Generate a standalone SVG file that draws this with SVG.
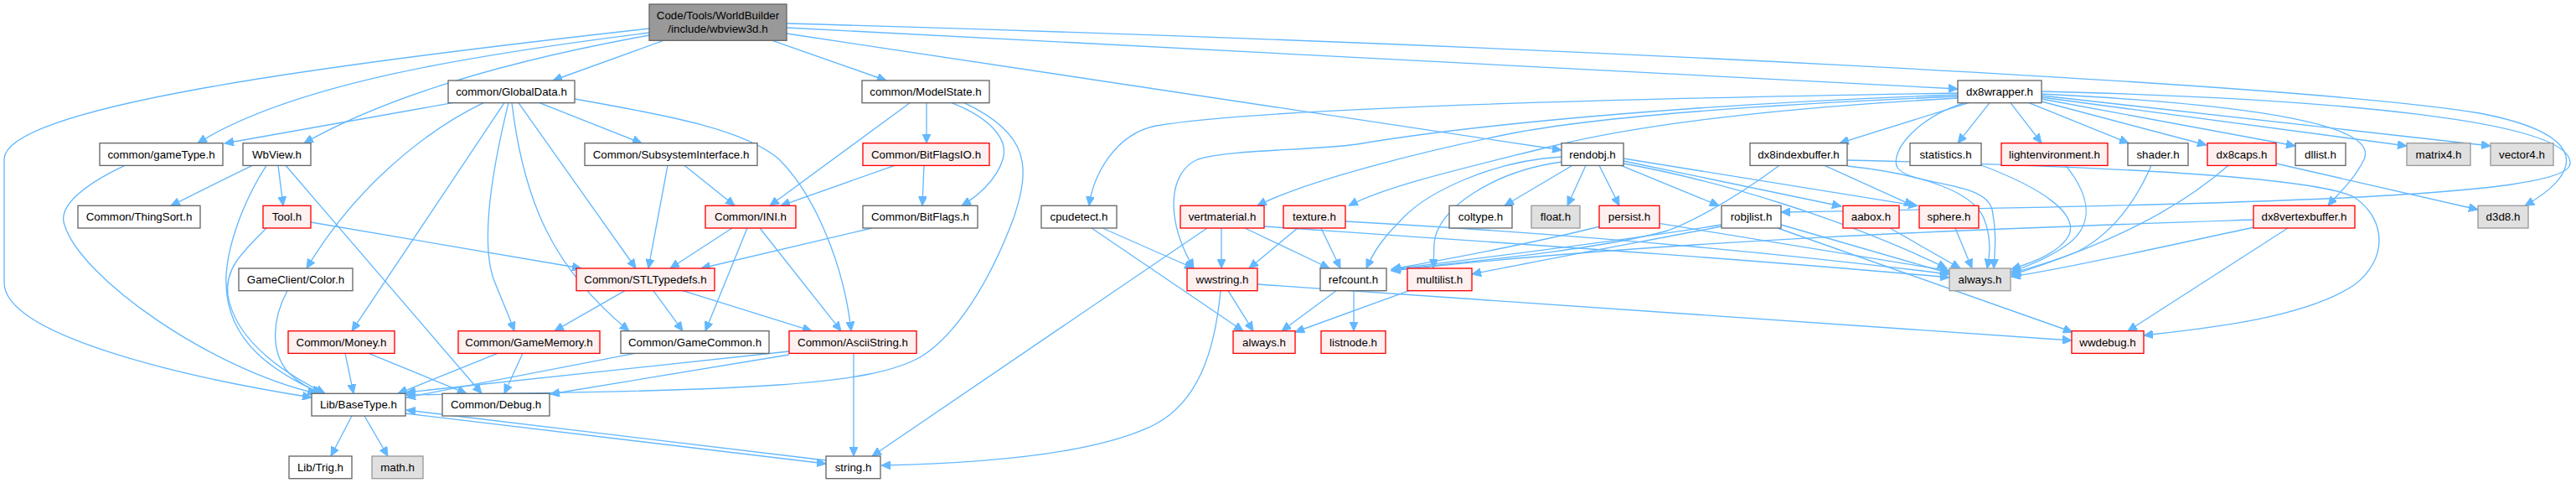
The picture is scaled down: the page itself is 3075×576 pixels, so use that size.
<svg xmlns="http://www.w3.org/2000/svg" width="3075" height="576" viewBox="0 0 3075 576">
<defs>
<style>
.node rect{stroke-width:1.33}
.w rect{fill:#ffffff;stroke:#666666}
.r rect{fill:#fff0f0;stroke:#ff0000}
.g rect{fill:#e0e0e0;stroke:#999999}
.root rect{fill:#999999;stroke:#666666}
.node text{font-family:"Liberation Sans",Arial,Helvetica,sans-serif;font-size:13.33px;text-anchor:middle;fill:#000000}
#edges path{fill:none;stroke:#63b8ff;stroke-width:1.33;marker-end:url(#arr)}
</style>
<marker id="arr" markerUnits="userSpaceOnUse" markerWidth="12" markerHeight="10" refX="11" refY="5" orient="auto">
<path d="M0,0 L11,5 L0,10 z" fill="#63b8ff" stroke="#63b8ff" stroke-width="1"/>
</marker>
</defs>
<rect x="0" y="0" width="3075" height="576" fill="#ffffff"/>
<g id="edges">
<path d="M792,48.3 L660,96"/>
<path d="M775,39 C560,66 350,100 236,170.7"/>
<path d="M775,42 C620,70 470,110 363,170.7"/>
<path d="M775,34 C380,78 5,128 5,190 L5,337 C5,400 220,450 372,474"/>
<path d="M922,48.3 L1058,96"/>
<path d="M939,40 L1864,179"/>
<path d="M939,33 L2337,106"/>
<path d="M939,28 C1800,52 2750,100 2960,135 C3090,160 3085,205 3014,245.3"/>
<path d="M2437,109 C2800,118 3070,145 3068,195 C3066,235 2700,243 2126,253"/>
<path d="M540,122.7 L268,171"/>
<path d="M644,122.7 L766,170.7"/>
<path d="M686,118 C800,138 890,155 930,190 C975,235 1008,320 1016,394.7"/>
<path d="M577,122.7 C500,160 420,230 366,320"/>
<path d="M602,122.7 L420,394.7"/>
<path d="M607,122.7 C588,200 573,290 590,335 C600,360 607,375 614,394.7"/>
<path d="M611,122.7 C625,240 660,320 751,394.7"/>
<path d="M619,122.7 L759,320"/>
<path d="M797,197.3 L774,320"/>
<path d="M817,197.3 L877,245.3"/>
<path d="M1086,122.7 L919,245.3"/>
<path d="M1106,122.7 L1106,170.7"/>
<path d="M1136,122.7 C1180,140 1205,165 1197,190 C1190,215 1165,235 1148,245.3"/>
<path d="M1151,122.7 C1230,160 1230,200 1210,260 C1180,340 1140,400 1100,425 C1040,460 900,466 485,471"/>
<path d="M1068,197.3 L932,245.3"/>
<path d="M1103,197.3 L1101,245.3"/>
<path d="M301,197.3 L204,245.3"/>
<path d="M332,197.3 L338,245.3"/>
<path d="M318,197.3 C290,240 268,300 270,340 C272,410 330,445 383,469.3"/>
<path d="M341,197.3 L575,469.3"/>
<path d="M149,197.3 C90,225 70,250 77,268 C95,330 250,440 378,469.3"/>
<path d="M318,272 C290,300 268,320 272,352 C282,412 350,450 388,469.3"/>
<path d="M371,265 L694,320"/>
<path d="M343,346.7 C325,380 322,420 345,445 C360,460 375,465 385,469.3"/>
<path d="M874,272 L800,320"/>
<path d="M892,272 L842,394.7"/>
<path d="M907,272 L1004,394.7"/>
<path d="M1041,272 L837,320"/>
<path d="M746,346.7 L662,394.7"/>
<path d="M780,346.7 L815,394.7"/>
<path d="M815,346.7 L969,394.7"/>
<path d="M412,421.3 L422,469.3"/>
<path d="M440,421.3 L557,469.3"/>
<path d="M594,421.3 L475,469.3"/>
<path d="M624,421.3 L602,469.3"/>
<path d="M758,421.3 L485,474"/>
<path d="M942,419 L485,468"/>
<path d="M942,423 L657,470"/>
<path d="M1019,421.3 L1019,544"/>
<path d="M420,496 L395,544"/>
<path d="M435,496 L463,544"/>
<path d="M484,493 L986,553"/>
<path d="M986,549 L485,489"/>
<path d="M1316,272 L1425,320"/>
<path d="M1303,272 L1484,394.7"/>
<path d="M1441,272 L1041,544"/>
<path d="M1458,272 L1458,320"/>
<path d="M1486,272 L1587,320"/>
<path d="M1509,270 C1800,290 2100,310 2327,331"/>
<path d="M1549,272 L1491,320"/>
<path d="M1577,272 L1600,320"/>
<path d="M1606,264 C1900,280 2150,305 2327,327"/>
<path d="M1457,346.7 C1450,420 1430,480 1377,507 C1300,545 1150,553 1052,555"/>
<path d="M1466,346.7 L1496,394.7"/>
<path d="M1501,339 L2473,406"/>
<path d="M1595,346.7 L1530,394.7"/>
<path d="M1616,346.7 L1616,394.7"/>
<path d="M1682,346.7 L1546,396"/>
<path d="M1877,197.3 L1796,245.3"/>
<path d="M1893,197.3 L1871,245.3"/>
<path d="M1909,197.3 L1933,245.3"/>
<path d="M1935,197.3 L2052,245.3"/>
<path d="M1938,192 L2198,246"/>
<path d="M1938,189 L2289,245.5"/>
<path d="M1938,195 C2050,215 2200,260 2324,320"/>
<path d="M1864,187 C1780,192 1700,230 1670,265 C1650,285 1640,300 1631,320"/>
<path d="M1864,193 C1780,205 1715,250 1712,290 L1711,320"/>
<path d="M2124,197.3 C2060,245 2010,268 1991,275 C1900,300 1720,315 1661,322"/>
<path d="M2178,197.3 L2284,245.3"/>
<path d="M2205,198 C2300,208 2355,230 2368,260 C2378,285 2375,305 2372,320"/>
<path d="M2205,191 C2500,198 2760,210 2810,235 C2850,262 2850,310 2810,340 C2750,380 2630,392 2559,400"/>
<path d="M2055,268 C1950,285 1750,310 1661,321"/>
<path d="M2055,270 C1950,290 1830,312 1757,327"/>
<path d="M2126,268 L2327,326"/>
<path d="M2122,272 L2474,396"/>
<path d="M1982,266.7 L2327,323"/>
<path d="M1910,270 C1850,285 1750,305 1661,321"/>
<path d="M2256,272 L2340,320"/>
<path d="M2334,272 L2354,320"/>
<path d="M2337,111 C1900,118 1500,130 1380,150 C1330,160 1305,210 1300,245.3"/>
<path d="M2337,113 C2000,125 1750,150 1620,172 C1560,180 1470,178 1430,190 C1395,205 1390,260 1425,320"/>
<path d="M2337,115 C2100,125 1900,140 1800,160 C1700,180 1560,215 1501,245.3"/>
<path d="M2337,117 C2100,130 1950,150 1850,175 C1750,200 1660,220 1610,245.3"/>
<path d="M2350,122.7 L2196,170.7"/>
<path d="M2375,122.7 L2337,170.7"/>
<path d="M2400,122.7 L2437,170.7"/>
<path d="M2422,122.7 L2541,170.7"/>
<path d="M2437,121 L2634,173"/>
<path d="M2437,118 L2740,174"/>
<path d="M2437,116 L2873,174"/>
<path d="M2437,114 L2973,174"/>
<path d="M2437,112 C2700,125 2840,150 2822,190 C2810,215 2790,232 2779,245.3"/>
<path d="M2345,122.7 C2290,140 2255,180 2265,200 C2280,222 2370,215 2378,250 C2384,280 2381,300 2380,320"/>
<path d="M2365,197 C2440,225 2480,255 2470,280 C2460,300 2430,312 2401,321"/>
<path d="M2466,197.3 C2500,240 2495,270 2470,290 C2450,305 2425,316 2401,324"/>
<path d="M2568,197.3 C2550,240 2520,280 2480,300 C2450,312 2425,319 2401,326"/>
<path d="M2660,197.3 C2600,250 2520,290 2401,328"/>
<path d="M2717,195 L2958,250"/>
<path d="M2691,271 C2600,290 2480,318 2401,330"/>
<path d="M2731,272 L2540,394.7"/>
<path d="M2690,262 C2400,272 2000,285 1661,323"/>
</g>
<g id="nodes">
<g id="node-root" class="node root"><rect x="775" y="5" width="164" height="43.3"/><text x="857" y="23.2">Code/Tools/WorldBuilder</text><text x="857" y="39.2">/include/wbview3d.h</text></g>
<g id="node-globaldata" class="node w"><rect x="535" y="96" width="151" height="26.7"/><text x="610.5" y="114">common/GlobalData.h</text></g>
<g id="node-modelstate" class="node w"><rect x="1029" y="96" width="152" height="26.7"/><text x="1105" y="114">common/ModelState.h</text></g>
<g id="node-dx8wrapper" class="node w"><rect x="2337" y="96" width="100" height="26.7"/><text x="2387" y="114">dx8wrapper.h</text></g>
<g id="node-gametype" class="node w"><rect x="119" y="170.7" width="147" height="26.7"/><text x="192.5" y="188.7">common/gameType.h</text></g>
<g id="node-wbview" class="node w"><rect x="290" y="170.7" width="81" height="26.7"/><text x="330.5" y="188.7">WbView.h</text></g>
<g id="node-subsys" class="node w"><rect x="698" y="170.7" width="206" height="26.7"/><text x="801" y="188.7">Common/SubsystemInterface.h</text></g>
<g id="node-bitflagsio" class="node r"><rect x="1030" y="170.7" width="151" height="26.7"/><text x="1105.5" y="188.7">Common/BitFlagsIO.h</text></g>
<g id="node-rendobj" class="node w"><rect x="1864" y="170.7" width="74" height="26.7"/><text x="1901" y="188.7">rendobj.h</text></g>
<g id="node-dx8index" class="node w"><rect x="2089" y="170.7" width="116" height="26.7"/><text x="2147" y="188.7">dx8indexbuffer.h</text></g>
<g id="node-statistics" class="node w"><rect x="2280" y="170.7" width="85" height="26.7"/><text x="2322.5" y="188.7">statistics.h</text></g>
<g id="node-lightenv" class="node r"><rect x="2389" y="170.7" width="127" height="26.7"/><text x="2452.5" y="188.7">lightenvironment.h</text></g>
<g id="node-shader" class="node w"><rect x="2540" y="170.7" width="72" height="26.7"/><text x="2576" y="188.7">shader.h</text></g>
<g id="node-dx8caps" class="node r"><rect x="2635" y="170.7" width="82" height="26.7"/><text x="2676" y="188.7">dx8caps.h</text></g>
<g id="node-dllist" class="node w"><rect x="2740" y="170.7" width="60" height="26.7"/><text x="2770" y="188.7">dllist.h</text></g>
<g id="node-matrix4" class="node g"><rect x="2873" y="170.7" width="76" height="26.7"/><text x="2911" y="188.7">matrix4.h</text></g>
<g id="node-vector4" class="node g"><rect x="2973" y="170.7" width="75" height="26.7"/><text x="3010.5" y="188.7">vector4.h</text></g>
<g id="node-thingsort" class="node w"><rect x="93" y="245.3" width="146" height="26.7"/><text x="166" y="263.3">Common/ThingSort.h</text></g>
<g id="node-tool" class="node r"><rect x="314" y="245.3" width="57" height="26.7"/><text x="342.5" y="263.3">Tool.h</text></g>
<g id="node-ini" class="node r"><rect x="842" y="245.3" width="108" height="26.7"/><text x="896" y="263.3">Common/INI.h</text></g>
<g id="node-bitflags" class="node w"><rect x="1030" y="245.3" width="137" height="26.7"/><text x="1098.5" y="263.3">Common/BitFlags.h</text></g>
<g id="node-cpudetect" class="node w"><rect x="1243" y="245.3" width="90" height="26.7"/><text x="1288" y="263.3">cpudetect.h</text></g>
<g id="node-vertmaterial" class="node r"><rect x="1409" y="245.3" width="100" height="26.7"/><text x="1459" y="263.3">vertmaterial.h</text></g>
<g id="node-texture" class="node r"><rect x="1532" y="245.3" width="74" height="26.7"/><text x="1569" y="263.3">texture.h</text></g>
<g id="node-coltype" class="node w"><rect x="1730" y="245.3" width="75" height="26.7"/><text x="1767.5" y="263.3">coltype.h</text></g>
<g id="node-float" class="node g"><rect x="1828" y="245.3" width="58" height="26.7"/><text x="1857" y="263.3">float.h</text></g>
<g id="node-persist" class="node r"><rect x="1909" y="245.3" width="72" height="26.7"/><text x="1945" y="263.3">persist.h</text></g>
<g id="node-robjlist" class="node w"><rect x="2055" y="245.3" width="71" height="26.7"/><text x="2090.5" y="263.3">robjlist.h</text></g>
<g id="node-aabox" class="node r"><rect x="2200" y="245.3" width="67" height="26.7"/><text x="2233.5" y="263.3">aabox.h</text></g>
<g id="node-sphere" class="node r"><rect x="2291" y="245.3" width="71" height="26.7"/><text x="2326.5" y="263.3">sphere.h</text></g>
<g id="node-dx8vb" class="node r"><rect x="2690" y="245.3" width="121" height="26.7"/><text x="2750.5" y="263.3">dx8vertexbuffer.h</text></g>
<g id="node-d3d8" class="node g"><rect x="2958" y="245.3" width="60" height="26.7"/><text x="2988" y="263.3">d3d8.h</text></g>
<g id="node-color" class="node w"><rect x="285" y="320" width="136" height="26.7"/><text x="353" y="338">GameClient/Color.h</text></g>
<g id="node-stl" class="node r"><rect x="688" y="320" width="165" height="26.7"/><text x="770.5" y="338">Common/STLTypedefs.h</text></g>
<g id="node-wwstring" class="node r"><rect x="1417" y="320" width="84" height="26.7"/><text x="1459" y="338">wwstring.h</text></g>
<g id="node-refcount" class="node w"><rect x="1576" y="320" width="79" height="26.7"/><text x="1615.5" y="338">refcount.h</text></g>
<g id="node-multilist" class="node r"><rect x="1680" y="320" width="77" height="26.7"/><text x="1718.5" y="338">multilist.h</text></g>
<g id="node-always-g" class="node g"><rect x="2327" y="320" width="73" height="26.7"/><text x="2363.5" y="338">always.h</text></g>
<g id="node-money" class="node r"><rect x="344" y="394.7" width="127" height="26.7"/><text x="407.5" y="412.7">Common/Money.h</text></g>
<g id="node-gamememory" class="node r"><rect x="547" y="394.7" width="169" height="26.7"/><text x="631.5" y="412.7">Common/GameMemory.h</text></g>
<g id="node-gamecommon" class="node w"><rect x="741" y="394.7" width="177" height="26.7"/><text x="829.5" y="412.7">Common/GameCommon.h</text></g>
<g id="node-ascii" class="node r"><rect x="942" y="394.7" width="152" height="26.7"/><text x="1018" y="412.7">Common/AsciiString.h</text></g>
<g id="node-always-r" class="node r"><rect x="1472" y="394.7" width="74" height="26.7"/><text x="1509" y="412.7">always.h</text></g>
<g id="node-listnode" class="node r"><rect x="1577" y="394.7" width="77" height="26.7"/><text x="1615.5" y="412.7">listnode.h</text></g>
<g id="node-wwdebug" class="node r"><rect x="2473" y="394.7" width="86" height="26.7"/><text x="2516" y="412.7">wwdebug.h</text></g>
<g id="node-basetype" class="node w"><rect x="372" y="469.3" width="112" height="26.7"/><text x="428" y="487.3">Lib/BaseType.h</text></g>
<g id="node-debug" class="node w"><rect x="528" y="469.3" width="128" height="26.7"/><text x="592" y="487.3">Common/Debug.h</text></g>
<g id="node-trig" class="node w"><rect x="345" y="544" width="75" height="26.7"/><text x="382.5" y="562">Lib/Trig.h</text></g>
<g id="node-math" class="node g"><rect x="444" y="544" width="61" height="26.7"/><text x="474.5" y="562">math.h</text></g>
<g id="node-string" class="node w"><rect x="986" y="544" width="65" height="26.7"/><text x="1018.5" y="562">string.h</text></g>
</g>
</svg>
